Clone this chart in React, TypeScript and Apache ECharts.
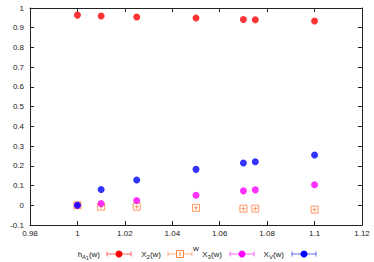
import React, { useEffect, useRef } from "react";
import * as echarts from "echarts";

const wValues = [1.0, 1.01, 1.025, 1.05, 1.07, 1.075, 1.1];
const hA1 = [0.964, 0.959, 0.954, 0.949, 0.942, 0.94, 0.934];
const X2 = [0.0, -0.007, -0.007, -0.013, -0.017, -0.017, -0.022];
const X3 = [0.0, 0.009, 0.024, 0.051, 0.073, 0.078, 0.104];
const XV = [0.0, 0.08, 0.128, 0.182, 0.214, 0.221, 0.255];

const colors = { h: "#ff0000", x2: "#ff7f3f", x3: "#ff00ff", xv: "#0000ff" };

const fmt = (v: number) => String(+v.toFixed(2));

function pairs(ys: number[]) {
  return wValues.map((x, i) => [x, ys[i]]);
}

const squarePath = "path://M0,0L10,0L10,10L0,10Z M5,2L5,8 M2,5L8,5";

const FONT = "Liberation Sans, Arial, sans-serif";

// legend label fragments: [text, level] level 0 normal, 1 subscript, 2 sub-subscript
const legendLabels: Record<string, [string, number][]> = {
  h: [["h", 0], ["A", 1], ["1", 2], ["(w)", 0]],
  x2: [["X", 0], ["2", 1], ["(w)", 0]],
  x3: [["X", 0], ["3", 1], ["(w)", 0]],
  xv: [["X", 0], ["V", 1], ["(w)", 0]],
};

export default function App() {
  const ref = useRef<HTMLDivElement>(null);
  useEffect(() => {
    const chart = echarts.init(ref.current!, null, { renderer: "svg" });
    const canvas = document.createElement("canvas");
    const ctx = canvas.getContext("2d")!;
    const sizes = [8, 6, 5];
    const offs = [0, 2.5, 4];
    const measure = (t: string, s: number) => {
      ctx.font = `${s}px ${FONT}`;
      return ctx.measureText(t).width;
    };
    const legendY = 254;
    const legendItems = [
      { key: "h", color: colors.h, textRight: 100, lineX0: 107 },
      { key: "x2", color: colors.x2, textRight: 161, lineX0: 168 },
      { key: "x3", color: colors.x3, textRight: 222, lineX0: 230 },
      { key: "xv", color: colors.xv, textRight: 284, lineX0: 292 },
    ];
    const graphics: any[] = [];
    legendItems.forEach((it) => {
      const frags = legendLabels[it.key];
      const widths = frags.map(([t, l]) => measure(t, sizes[l]));
      const total = widths.reduce((a, b) => a + b, 0);
      let x = it.textRight - total;
      frags.forEach(([t, l], i) => {
        graphics.push({
          type: "text",
          x,
          y: legendY + offs[l],
          style: {
            text: t,
            fontSize: sizes[l],
            fontFamily: FONT,
            fill: "#222",
            align: "left",
            verticalAlign: "middle",
          },
          silent: true,
        });
        x += widths[i];
      });
      const x0 = it.lineX0;
      const x1 = x0 + 24;
      const xm = (x0 + x1) / 2;
      const ls = { stroke: it.color, lineWidth: 1, opacity: 0.6 };
      graphics.push({ type: "line", shape: { x1: x0, y1: legendY, x2: x1, y2: legendY }, style: ls, silent: true });
      graphics.push({ type: "line", shape: { x1: x0, y1: legendY - 2.5, x2: x0, y2: legendY + 2.5 }, style: ls, silent: true });
      graphics.push({ type: "line", shape: { x1: x1, y1: legendY - 2.5, x2: x1, y2: legendY + 2.5 }, style: ls, silent: true });
      if (it.key === "x2") {
        graphics.push({ type: "rect", shape: { x: xm - 3.5, y: legendY - 3.5, width: 7, height: 7 }, style: { fill: "#fff", stroke: it.color, lineWidth: 1 }, silent: true });
        graphics.push({ type: "line", shape: { x1: xm, y1: legendY - 2, x2: xm, y2: legendY + 2 }, style: { stroke: it.color, lineWidth: 1 }, silent: true });
      } else {
        graphics.push({ type: "circle", shape: { cx: xm, cy: legendY, r: 3.5 }, style: { fill: it.color }, silent: true });
      }
    });

    const axisCommon = {
      axisLine: { show: true, onZero: false, lineStyle: { color: "#222", width: 1 } },
      axisTick: { show: true, inside: true, length: 4, lineStyle: { color: "#222" } },
      splitLine: { show: false },
    };

    chart.setOption({
      animation: false,
      backgroundColor: "#fff",
      grid: { left: 30, right: 12, top: 8, bottom: 37, containLabel: false },
      xAxis: [
        {
          type: "value",
          min: 0.98,
          max: 1.12,
          interval: 0.02,
          name: "w",
          nameLocation: "middle",
          nameGap: 19,
          nameTextStyle: { fontSize: 8, color: "#222", fontFamily: FONT },
          ...axisCommon,
          axisLabel: { fontSize: 8, color: "#222", fontFamily: FONT, margin: 4, formatter: fmt },
        },
        {
          type: "value",
          position: "top",
          min: 0.98,
          max: 1.12,
          interval: 0.02,
          ...axisCommon,
          axisLabel: { show: false },
        },
      ],
      yAxis: [
        {
          type: "value",
          min: -0.1,
          max: 1,
          interval: 0.1,
          ...axisCommon,
          axisLabel: { fontSize: 8, color: "#222", fontFamily: FONT, margin: 6, formatter: fmt },
        },
        {
          type: "value",
          position: "right",
          min: -0.1,
          max: 1,
          interval: 0.1,
          ...axisCommon,
          axisLabel: { show: false },
        },
      ],
      series: [
        {
          name: "hA1(w)",
          type: "scatter",
          data: pairs(hA1),
          symbol: "circle",
          symbolSize: 7,
          itemStyle: { color: colors.h },
        },
        {
          name: "X2(w)",
          type: "scatter",
          data: pairs(X2),
          symbol: squarePath,
          symbolSize: 7,
          itemStyle: { color: "#fff", borderColor: colors.x2, borderWidth: 1 },
        },
        {
          name: "X3(w)",
          type: "scatter",
          data: pairs(X3),
          symbol: "circle",
          symbolSize: 7,
          itemStyle: { color: colors.x3 },
        },
        {
          name: "XV(w)",
          type: "scatter",
          data: pairs(XV),
          symbol: "circle",
          symbolSize: 7,
          itemStyle: { color: colors.xv },
        },
      ],
      graphic: graphics,
    });
    return () => chart.dispose();
  }, []);
  return <div ref={ref} style={{ width: 374, height: 262, position: "absolute", left: 0, top: 0 }} />;
}
